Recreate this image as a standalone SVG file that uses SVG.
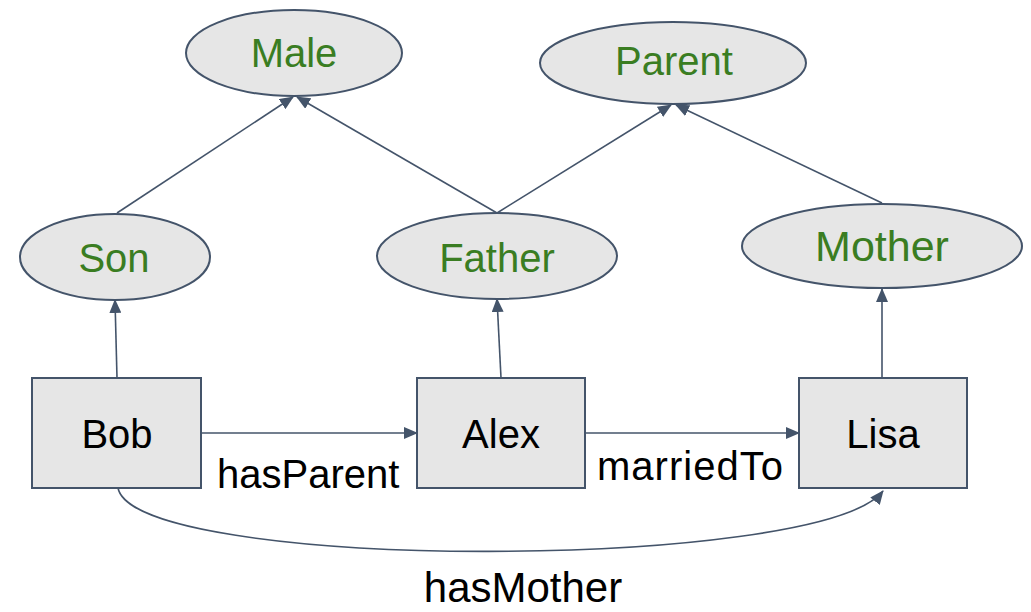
<svg xmlns="http://www.w3.org/2000/svg" width="1031" height="612" viewBox="0 0 1031 612">
<defs>
<marker id="ah" markerUnits="userSpaceOnUse" markerWidth="14" markerHeight="12" refX="13" refY="6" orient="auto">
<path d="M0,0 L14,6 L0,12 z" fill="#44546a"/>
</marker>
<style>
.cls ellipse{fill:#e6e6e6;stroke:#44546a;stroke-width:2}
.cls text{fill:#3a7d22;font-family:"Liberation Sans",Arial,sans-serif;font-size:40px;text-anchor:middle}
.ind rect{fill:#e6e6e6;stroke:#44546a;stroke-width:2}
.ind text{fill:#000;font-family:"Liberation Sans",Arial,sans-serif;font-size:40px;text-anchor:middle}
.edges path,.edges line{stroke:#44546a;stroke-width:1.6;fill:none;marker-end:url(#ah)}
.lbl{fill:#000;font-family:"Liberation Sans",Arial,sans-serif;font-size:40px}
</style>
</defs>
<rect width="1031" height="612" fill="#fff"/>
<g class="edges" id="connectors">
<line x1="117" y1="213" x2="293" y2="97"/>
<line x1="497" y1="213" x2="297" y2="97"/>
<line x1="497" y1="213" x2="671" y2="105"/>
<line x1="882" y1="203" x2="676" y2="105"/>
<line x1="117" y1="378" x2="115" y2="300"/>
<line x1="501" y1="378" x2="497" y2="299"/>
<line x1="882" y1="378" x2="882" y2="289"/>
<line x1="201" y1="433" x2="417" y2="433"/>
<line x1="585" y1="433" x2="799" y2="433"/>
<path d="M118,488 C135,572 820,572 883,491"/>
<text class="lbl" x="217" y="488">hasParent</text>
<text class="lbl" x="597" y="480" textLength="186">marriedTo</text>
<text class="lbl" x="523" y="602" text-anchor="middle" style="font-size:42px">hasMother</text>
</g>
<g class="cls" id="Male"><ellipse cx="294" cy="53" rx="108" ry="43"/><text x="294" y="67">Male</text></g>
<g class="cls" id="Parent"><ellipse cx="673" cy="63" rx="133" ry="41"/><text x="674" y="75">Parent</text></g>
<g class="cls" id="Son"><ellipse cx="115" cy="257" rx="95" ry="43"/><text x="114" y="272">Son</text></g>
<g class="cls" id="Father"><ellipse cx="497" cy="256" rx="120" ry="43"/><text x="497" y="272">Father</text></g>
<g class="cls" id="Mother"><ellipse cx="882" cy="246" rx="140" ry="42"/><text x="882" y="261" style="font-size:43px">Mother</text></g>
<g class="ind" id="Bob"><rect x="32" y="378" width="169" height="110"/><text x="117" y="448">Bob</text></g>
<g class="ind" id="Alex"><rect x="417" y="378" width="168" height="110"/><text x="501" y="448">Alex</text></g>
<g class="ind" id="Lisa"><rect x="799" y="378" width="168" height="110"/><text x="883" y="448">Lisa</text></g>
</svg>
